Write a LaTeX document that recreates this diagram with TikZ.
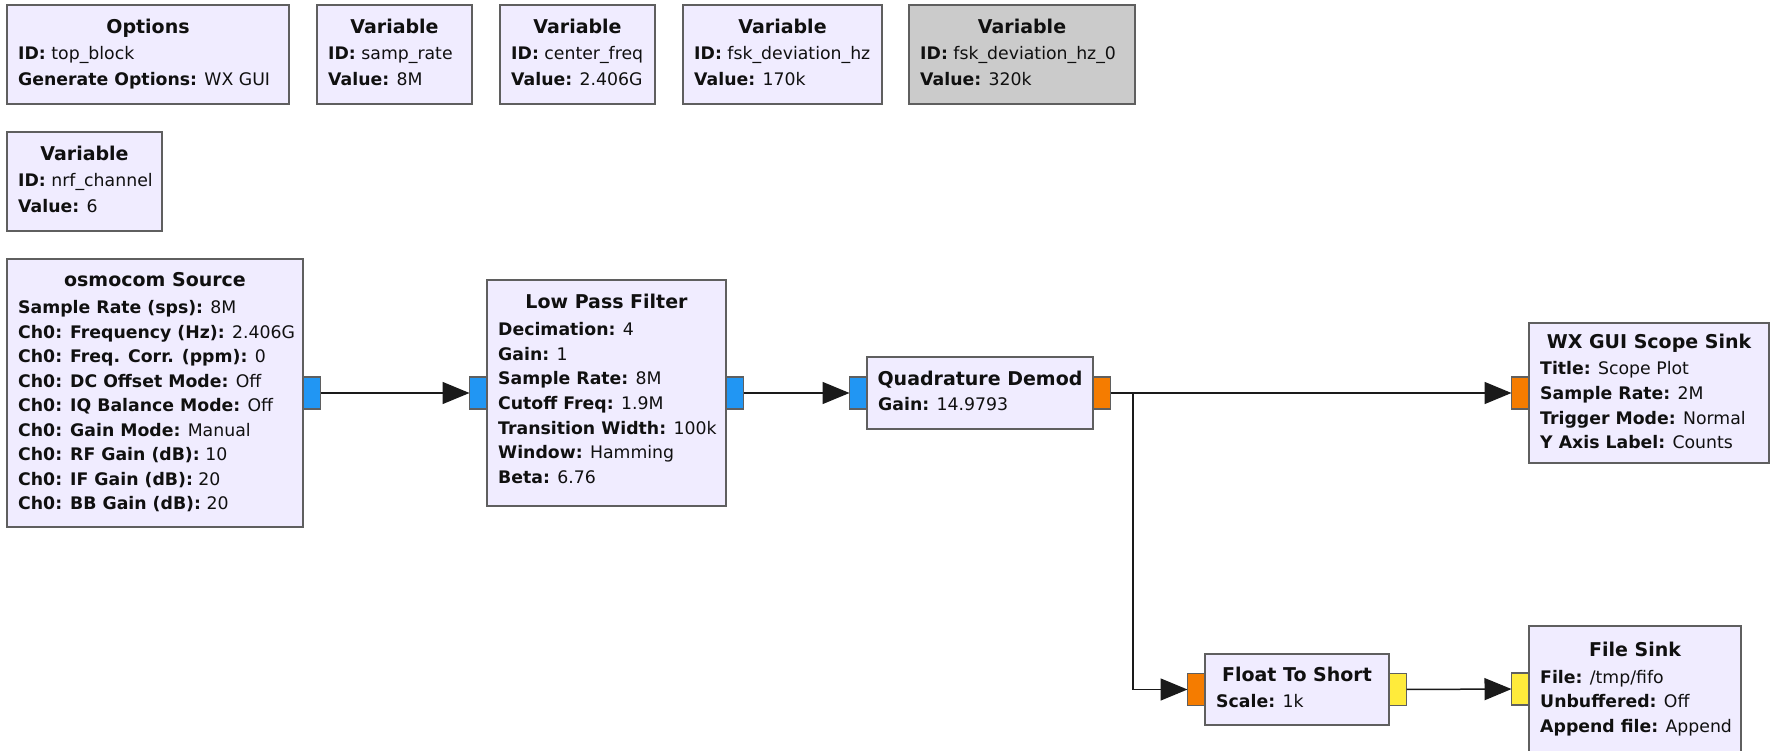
\documentclass[tikz,border=0pt]{standalone}
\usepackage{fontspec}
\setmainfont{DejaVu Sans}
\usetikzlibrary{arrows.meta,calc}
\definecolor{blockfill}{HTML}{F0ECFF}
\definecolor{disfill}{HTML}{CBCBCB}
\definecolor{bordercol}{HTML}{5F5F5F}
\definecolor{linecol}{HTML}{1A1A1A}
\definecolor{txtcol}{HTML}{101010}
\definecolor{pblue}{HTML}{2196F3}
\definecolor{porange}{HTML}{F57C00}
\definecolor{pyellow}{HTML}{FFEB3B}
\newcommand{\grcttl}{\fontsize{19}{21}\selectfont\bfseries}
\newcommand{\grcbdy}{\fontsize{17.3}{19}\selectfont}
\newcommand{\bl}[4]{\node[bdy] (#1) at ($(#2.north west)+(11,#3+3)$) {#4};}
\newcommand{\tl}[4]{\node[ttl] (#1) at ($(#2.north)+(0,#3+3.5)$) {#4};}
\begin{document}
\begin{tikzpicture}[x=1pt,y=-1pt,
  blockbox/.style={draw=bordercol, line width=1.5pt, fill=blockfill, rectangle, inner sep=0pt, outer sep=0pt, anchor=north west},
  ttl/.style={font=\grcttl, text=txtcol, inner sep=0pt, anchor=mid},
  bdy/.style={font=\grcbdy, text=txtcol, inner sep=0pt, anchor=mid west},
  port/.style={draw=bordercol, line width=1.2pt, rectangle, minimum width=17.5pt, minimum height=32pt, inner sep=0pt, outer sep=0pt},
  conn/.style={draw=linecol, line width=1.5pt, -{Triangle[length=27pt,width=22pt]}}]
\useasboundingbox (0,0) rectangle (1771,751);

% top row
\node[blockbox, minimum width=282pt, minimum height=99pt] (opt) at (7,5) {};
\tl{optT}{opt}{22}{Options}
\bl{optA}{opt}{49}{\textbf{ID:} top\_block}
\bl{optB}{opt}{75}{\textbf{Generate Options:} WX GUI}

\node[blockbox, minimum width=155pt, minimum height=99pt] (vsr) at (317,5) {};
\tl{vsrT}{vsr}{22}{Variable}
\bl{vsrA}{vsr}{49}{\textbf{ID:} samp\_rate}
\bl{vsrB}{vsr}{75}{\textbf{Value:} 8M}

\node[blockbox, minimum width=155pt, minimum height=99pt] (vcf) at (500,5) {};
\tl{vcfT}{vcf}{22}{Variable}
\bl{vcfA}{vcf}{49}{\textbf{ID:} center\_freq}
\bl{vcfB}{vcf}{75}{\textbf{Value:} 2.406G}

\node[blockbox, minimum width=199pt, minimum height=99pt] (vfd) at (683,5) {};
\tl{vfdT}{vfd}{22}{Variable}
\bl{vfdA}{vfd}{49}{\textbf{ID:} fsk\_deviation\_hz}
\bl{vfdB}{vfd}{75}{\textbf{Value:} 170k}

\node[blockbox, fill=disfill, minimum width=226pt, minimum height=99pt] (vfz) at (909,5) {};
\tl{vfzT}{vfz}{22}{Variable}
\bl{vfzA}{vfz}{49}{\textbf{ID:} fsk\_deviation\_hz\_0}
\bl{vfzB}{vfz}{75}{\textbf{Value:} 320k}

\node[blockbox, minimum width=155pt, minimum height=99pt] (vnrf) at (7,132) {};
\tl{vnrfT}{vnrf}{22}{Variable}
\bl{vnrfA}{vnrf}{49}{\textbf{ID:} nrf\_channel}
\bl{vnrfB}{vnrf}{75}{\textbf{Value:} 6}

% osmocom source
\node[blockbox, minimum width=296pt, minimum height=268pt] (osmo) at (7,259) {};
\tl{osmoT}{osmo}{21}{osmocom Source}
\bl{osmoA}{osmo}{49}{\textbf{Sample Rate (sps):} 8M}
\bl{osmoB}{osmo}{73.5}{\textbf{Ch0: Frequency (Hz):} 2.406G}
\bl{osmoC}{osmo}{98}{\textbf{Ch0: Freq. Corr. (ppm):} 0}
\bl{osmoD}{osmo}{122.5}{\textbf{Ch0: DC Offset Mode:} Off}
\bl{osmoE}{osmo}{147}{\textbf{Ch0: IQ Balance Mode:} Off}
\bl{osmoF}{osmo}{171.5}{\textbf{Ch0: Gain Mode:} Manual}
\bl{osmoG}{osmo}{196}{\textbf{Ch0: RF Gain (dB):} 10}
\bl{osmoH}{osmo}{220.5}{\textbf{Ch0: IF Gain (dB):} 20}
\bl{osmoI}{osmo}{245}{\textbf{Ch0: BB Gain (dB):} 20}

% low pass filter
\node[blockbox, minimum width=239pt, minimum height=226pt] (lpf) at (487,280) {};
\tl{lpfT}{lpf}{22}{Low Pass Filter}
\bl{lpfA}{lpf}{50}{\textbf{Decimation:} 4}
\bl{lpfB}{lpf}{74.6}{\textbf{Gain:} 1}
\bl{lpfC}{lpf}{99.2}{\textbf{Sample Rate:} 8M}
\bl{lpfD}{lpf}{123.8}{\textbf{Cutoff Freq:} 1.9M}
\bl{lpfE}{lpf}{148.4}{\textbf{Transition Width:} 100k}
\bl{lpfF}{lpf}{173}{\textbf{Window:} Hamming}
\bl{lpfG}{lpf}{197.6}{\textbf{Beta:} 6.76}

% quadrature demod
\node[blockbox, minimum width=226pt, minimum height=72pt] (qd) at (867,357) {};
\tl{qdT}{qd}{22}{Quadrature Demod}
\bl{qdA}{qd}{48}{\textbf{Gain:} 14.9793}

% wx gui scope sink
\node[blockbox, minimum width=240pt, minimum height=140pt] (wx) at (1529,323) {};
\tl{wxT}{wx}{19}{WX GUI Scope Sink}
\bl{wxA}{wx}{46}{\textbf{Title:} Scope Plot}
\bl{wxB}{wx}{71}{\textbf{Sample Rate:} 2M}
\bl{wxC}{wx}{96}{\textbf{Trigger Mode:} Normal}
\bl{wxD}{wx}{120}{\textbf{Y Axis Label:} Counts}

% float to short
\node[blockbox, minimum width=184pt, minimum height=71pt] (fts) at (1205,654) {};
\tl{ftsT}{fts}{21}{Float To Short}
\bl{ftsA}{fts}{48}{\textbf{Scale:} 1k}

% file sink
\node[blockbox, minimum width=212pt, minimum height=126pt] (fsink) at (1529,626) {};
\tl{fsinkT}{fsink}{24}{File Sink}
\bl{fsinkA}{fsink}{52}{\textbf{File:} /tmp/fifo}
\bl{fsinkB}{fsink}{76}{\textbf{Unbuffered:} Off}
\bl{fsinkC}{fsink}{101}{\textbf{Append file:} Append}

% ports
\node[port, fill=pblue, anchor=west] (osmoO) at (osmo.east) {};
\node[port, fill=pblue, anchor=east] (lpfI) at (lpf.west) {};
\node[port, fill=pblue, anchor=west] (lpfO) at (lpf.east) {};
\node[port, fill=pblue, anchor=east] (qdI) at (qd.west) {};
\node[port, fill=porange, anchor=west] (qdO) at (qd.east) {};
\node[port, fill=porange, anchor=east] (wxI) at (wx.west) {};
\node[port, fill=porange, anchor=east] (ftsI) at (fts.west) {};
\node[port, fill=pyellow, anchor=west] (ftsO) at (fts.east) {};
\node[port, fill=pyellow, anchor=east] (fsI) at (fsink.west) {};

% connectors
\coordinate (br) at (1133,393);
\draw[conn] (osmoO) -- (lpfI);
\draw[conn] (lpfO) -- (qdI);
\draw[conn] (qdO) -- (wxI);
\draw[conn] (qdO) -- (br) |- (ftsI);
\draw[conn] (ftsO) -- (fsI);
\end{tikzpicture}
\end{document}
